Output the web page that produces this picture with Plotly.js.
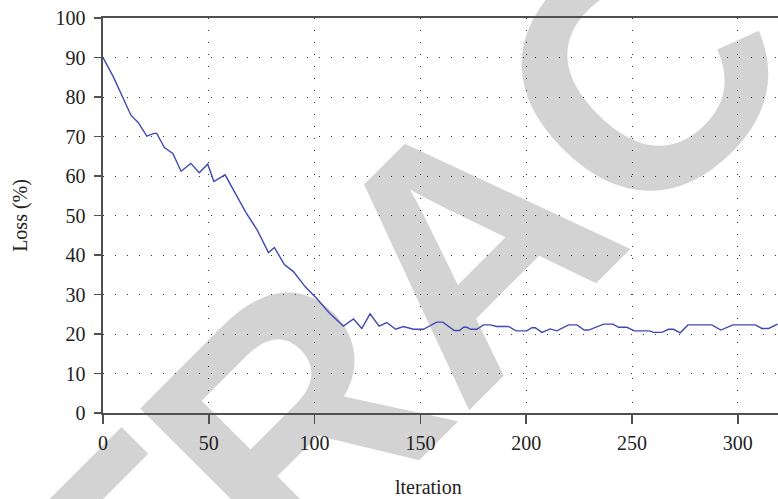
<!DOCTYPE html>
<html>
<head>
<meta charset="utf-8">
<script src="https://cdn.plot.ly/plotly-3.0.1.min.js"></script>
<style>html,body{margin:0;padding:0;background:#fff;}#chart{width:778px;height:499px;}</style>
</head>
<body>
<div id="chart"></div>
<script>
const iteration = [0, 4.9, 13.2, 16.7, 20.7, 24.1, 25.4, 29, 33, 36.9, 41.5, 45.5, 49.5, 52.4, 57.7, 62.4, 67.5, 72.9, 78.2, 81, 85.7, 90, 95.5, 101, 107, 113.6, 118.4, 122.3, 126.2, 130.5, 134.1, 138.3, 142, 146.7, 151.4, 157.7, 160.6, 166, 168.5, 170.4, 172, 173.8, 176.7, 179.8, 183, 186.1, 191.6, 195.3, 200.3, 202.7, 204.3, 207.4, 211.3, 214.5, 220, 224, 227.4, 229.5, 236.6, 241, 243.7, 247.6, 251.1, 258.3, 260.2, 264.1, 267.3, 269.6, 272.8, 276.4, 287.7, 292, 297.7, 308.3, 311.4, 314.6, 318.8];
const loss = [90, 85.1, 75.4, 73.5, 70.1, 70.8, 70.8, 67.2, 65.7, 61.2, 63.2, 60.8, 63, 58.6, 60.3, 55.6, 50.8, 46.3, 40.6, 41.9, 37.6, 35.8, 32, 29, 25.3, 22, 23.8, 21.4, 25.1, 22, 22.9, 21.2, 21.9, 21.2, 21.2, 23, 23, 20.9, 20.9, 21.7, 21.7, 21.2, 21.2, 22.3, 22.3, 21.9, 21.9, 20.8, 20.8, 21.6, 21.6, 20.4, 21.3, 20.8, 22.3, 22.3, 21, 21, 22.5, 22.5, 21.7, 21.7, 20.8, 20.8, 20.4, 20.4, 21.2, 21.2, 20.3, 22.3, 22.3, 21, 22.3, 22.3, 21.4, 21.4, 22.5];
const xTicks = [0, 50, 100, 150, 200, 250, 300];
const yTicks = [0, 10, 20, 30, 40, 50, 60, 70, 80, 90, 100];
const xTitle = 'lteration';
const yTitle = 'Loss (%)';
const watermark = 'RETRACTED';

const serif = 'Liberation Serif, Times New Roman, serif';
const axisColor = '#505050';
const textColor = '#222222';

const trace = {
  x: iteration, y: loss, type: 'scatter', mode: 'lines',
  line: {color: '#4049b2', width: 1.4}, hoverinfo: 'skip', showlegend: false
};

const layout = {
  width: 778, height: 499,
  margin: {l: 103, r: 0, t: 18, b: 86},
  paper_bgcolor: '#ffffff',
  plot_bgcolor: 'rgba(0,0,0,0)',
  font: {family: serif, color: textColor, size: 20},
  showlegend: false,
  xaxis: {
    range: [0, 319], tickvals: xTicks, ticktext: xTicks.map(String),
    showline: true, linecolor: axisColor, linewidth: 1.6, mirror: true,
    ticks: 'outside', ticklen: 9, tickwidth: 1.5, tickcolor: axisColor,
    ticklabelstandoff: 2,
    showgrid: true, gridcolor: '#333333', gridwidth: 1, griddash: '1px,11px',
    zeroline: false,
    tickfont: {family: serif, size: 20, color: textColor}
  },
  yaxis: {
    range: [0, 100], tickvals: yTicks, ticktext: yTicks.map(String),
    showline: true, linecolor: axisColor, linewidth: 1.6,
    ticks: 'outside', ticklen: 7, tickwidth: 1.5, tickcolor: axisColor,
    ticklabelstandoff: 5,
    showgrid: true, gridcolor: '#333333', gridwidth: 1, griddash: '1px,11px',
    zeroline: false,
    tickfont: {family: serif, size: 20, color: textColor},
    title: {text: yTitle, font: {family: serif, size: 20, color: textColor}, standoff: 22}
  },
  annotations: [{
    text: xTitle, xref: 'paper', yref: 'paper',
    x: (428 - 103) / 675, y: -(487 - 413) / 395,
    xanchor: 'center', yanchor: 'middle', showarrow: false,
    font: {family: serif, size: 20, color: textColor}
  }],
  shapes: [{
    type: 'rect', xref: 'paper', yref: 'paper', layer: 'below',
    x0: 0.504, x1: 0.506, y0: 0.479, y1: 0.481,
    line: {width: 0}, fillcolor: 'rgba(0,0,0,0)',
    label: {
      text: watermark, textposition: 'middle center', textangle: -45,
      font: {family: 'Liberation Sans, Arial, sans-serif', size: 340, color: '#d3d3d3', weight: 'bold'}
    }
  }]
};

Plotly.newPlot('chart', [trace], layout, {staticPlot: true, displayModeBar: false});
</script>
</body>
</html>
